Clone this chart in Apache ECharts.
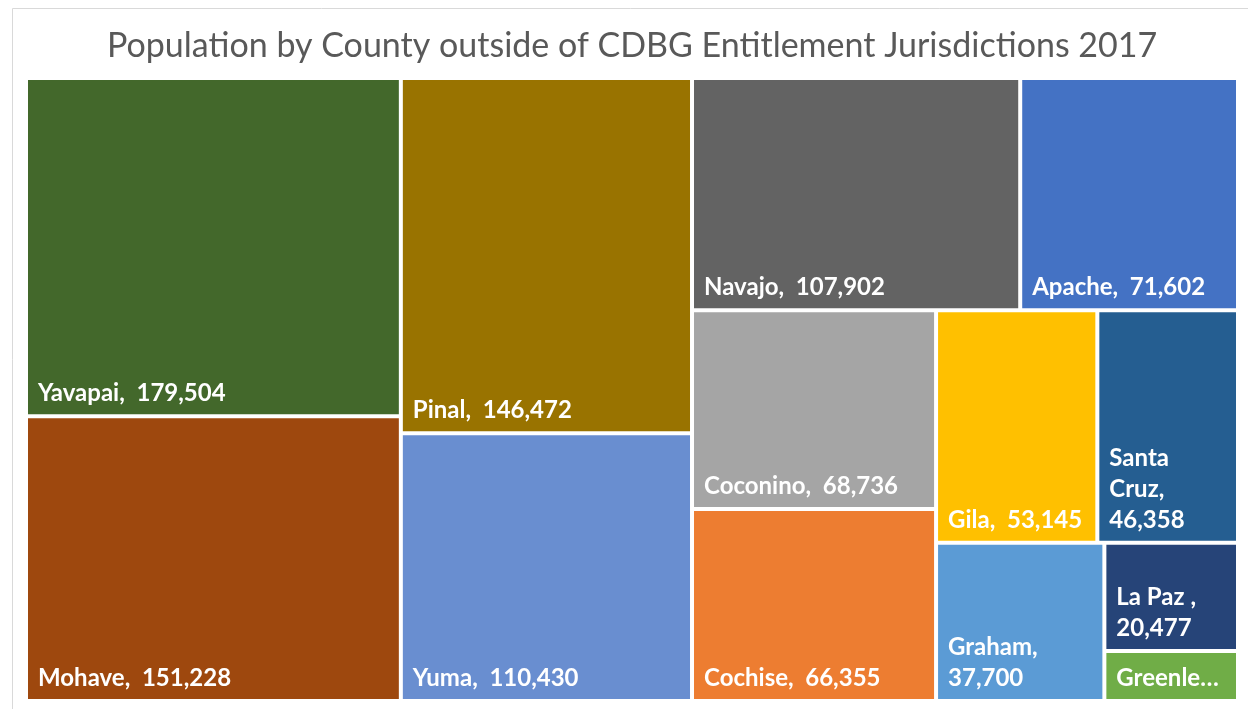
<!DOCTYPE html>
<html>
<head>
<meta charset="utf-8">
<script src="https://cdn.jsdelivr.net/npm/echarts@6/dist/echarts.min.js"></script>
<style>
html,body{margin:0;padding:0;background:#fff;}
#chart{width:1248px;height:709px;}
</style>
</head>
<body>
<div id="chart"></div>
<script>
const titleText = 'Population by County outside of CDBG Entitlement Jurisdictions 2017';
const counties = ['Apache', 'Cochise', 'Coconino', 'Gila', 'Graham', 'Greenlee', 'La Paz ', 'Mohave', 'Navajo', 'Pinal', 'Santa Cruz', 'Yavapai', 'Yuma'];
const population = [71602, 66355, 68736, 53145, 37700, 9455, 20477, 151228, 107902, 146472, 46358, 179504, 110430];
const colors = ['#4472C4', '#ED7D31', '#A5A5A5', '#FFC000', '#5B9BD5', '#70AD47', '#264478', '#9E480E', '#636363', '#997300', '#255E91', '#43682B', '#698ED0'];

const LABEL_FONT_SIZE = 24;
const LABEL_FONT = 'bold ' + LABEL_FONT_SIZE + 'px Lato';
const PAD = [0, 10, 5, 10];
const LINE_H = 31;

const ctx = document.createElement('canvas').getContext('2d');
ctx.font = LABEL_FONT;
const mw = s => ctx.measureText(s).width;

const wrapped = {};

function wrapLabel(name, value, w, h) {
  const valueText = value.toLocaleString('en-US');
  const full = name + ',  ' + valueText;
  if (mw(full) <= w) return full;
  const tokens = (name + ',').split(' ').filter(t => t.length);
  const lines = [];
  let cur = '';
  tokens.forEach(t => {
    const test = cur ? cur + ' ' + t : t;
    if (mw(test) <= w || !cur) { cur = test; } else { lines.push(cur); cur = t; }
  });
  const testV = cur + '  ' + valueText;
  if (mw(testV) <= w) { cur = testV; } else { lines.push(cur); cur = valueText; }
  lines.push(cur);
  if (lines.length * LINE_H <= h + 4) return lines.join('\n');
  let s = full;
  while (s.length > 1 && mw(s + '…') > w) s = s.slice(0, -1);
  return s.replace(/\s+$/, '') + '…';
}

const data = counties.map((c, i) => ({
  name: c,
  value: population[i],
  itemStyle: { color: colors[i] }
}));

const chart = echarts.init(document.getElementById('chart'), null, { renderer: 'canvas' });
const option = {
  animation: false,
  title: {
    text: titleText,
    left: 102,
    top: 24,
    textStyle: { fontFamily: 'Lato', fontWeight: 'normal', fontSize: 34, color: '#595959' }
  },
  graphic: [{
    type: 'rect',
    shape: { x: 12.5, y: 8.5, width: 1400, height: 900 },
    style: { fill: 'none', stroke: '#d9d9d9', lineWidth: 1 },
    silent: true
  }],
  series: [{
    type: 'treemap',
    left: 28, top: 80, width: 1208, height: 619,
    roam: false,
    nodeClick: false,
    squareRatio: 1,
    breadcrumb: { show: false },
    itemStyle: { gapWidth: 4, borderWidth: 0, borderColor: '#fff' },
    label: {
      show: true,
      position: 'insideBottomLeft',
      distance: 0,
      padding: PAD,
      color: '#fff',
      fontFamily: 'Lato',
      fontWeight: 'bold',
      fontSize: LABEL_FONT_SIZE,
      lineHeight: LINE_H,
      overflow: 'none',
      formatter: p => wrapped[p.name] || (p.name + ',  ' + p.value.toLocaleString('en-US'))
    },
    data: data
  }]
};
chart.setOption(option);

const seriesModel = chart.getModel().getSeriesByIndex(0);
const sData = seriesModel.getData();
sData.each(idx => {
  const name = sData.getName(idx);
  const l = sData.getItemLayout(idx);
  const v = sData.get('value', idx);
  if (!l || !name) return;
  wrapped[name] = wrapLabel(name, v, l.width - PAD[1] - PAD[3], l.height - PAD[0] - PAD[2]);
});
chart.setOption(option, true);
</script>
</body>
</html>
